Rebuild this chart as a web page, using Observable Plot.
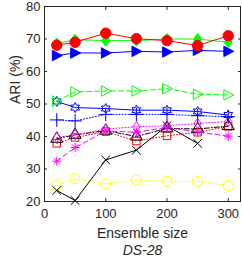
<!DOCTYPE html>
<html>
<head>
<meta charset="utf-8">
<script src="https://cdn.jsdelivr.net/npm/d3@7"></script>
<script src="https://cdn.jsdelivr.net/npm/@observablehq/plot@0.6"></script>
<style>
  html, body { margin: 0; padding: 0; background: #fff; }
  #chart svg { display: block; }
</style>
</head>
<body>
<div id="chart"></div>
<script>
const sizes = [20, 50, 100, 150, 200, 250, 300];

const redCircle     = [68.1, 69.0, 71.8, 70.1, 69.5, 68.0, 71.0];
const greenDiamond  = [68.6, 69.8, 69.5, 69.5, 70.0, 70.0, 69.0];
const blueTriFilled = [64.9, 65.7, 65.7, 66.2, 66.0, 66.5, 66.2];
const greenTriOpen  = [50.9, 53.7, 54.0, 54.0, 54.7, 53.0, 52.8];
const blueHexagram  = [50.8, 48.9, 48.6, 48.1, 48.1, 47.7, 46.6];
const bluePlus      = [45.1, 44.8, 46.8, 46.8, 46.8, 46.4, 46.1];
const magentaDiam   = [39.7, 40.5, 42.3, 43.0, 43.3, 44.0, 44.6];
const blackTri      = [39.3, 40.5, 41.8, 40.0, 42.5, 42.3, 43.2];
const redSquare     = [37.9, 39.7, 41.5, 38.6, 40.2, 41.3, 43.1];
const magentaStar   = [32.4, 36.6, 41.7, 41.3, 42.8, 41.4, 40.1];
const blackX        = [23.4, 20.3, 32.8, 35.8, 43.3, 37.9, null];
const yellowCircle  = [24.9, 27.0, 25.4, 26.6, 26.2, 26.2, 24.9];

const xTicks = [0, 100, 200, 300];
const yTicks = [20, 30, 40, 50, 60, 70, 80];

// custom symbols
const rightTriangle = {
  draw(ctx, size) {
    const r = Math.sqrt(size / Math.PI);
    ctx.moveTo(r, 0);
    ctx.lineTo(-r * 0.8, -r * 0.95);
    ctx.lineTo(-r * 0.8, r * 0.95);
    ctx.closePath();
  }
};
const hexagram = {
  draw(ctx, size) {
    const R = Math.sqrt(size / Math.PI);
    const r = R * 0.55;
    for (let i = 0; i < 12; i++) {
      const a = -Math.PI / 2 + i * Math.PI / 6;
      const rr = i % 2 === 0 ? R : r;
      const px = rr * Math.cos(a), py = rr * Math.sin(a);
      if (i === 0) ctx.moveTo(px, py); else ctx.lineTo(px, py);
    }
    ctx.closePath();
  }
};
const mDiamond = {
  draw(ctx, size) {
    const r = Math.sqrt(size / Math.PI);
    ctx.moveTo(0, -r);
    ctx.lineTo(r * 0.75, 0);
    ctx.lineTo(0, r);
    ctx.lineTo(-r * 0.75, 0);
    ctx.closePath();
  }
};
const asterisk8 = {
  draw(ctx, size) {
    const r = Math.sqrt(size / Math.PI);
    const d = r * Math.SQRT1_2;
    ctx.moveTo(-r, 0); ctx.lineTo(r, 0);
    ctx.moveTo(0, -r); ctx.lineTo(0, r);
    ctx.moveTo(-d, -d); ctx.lineTo(d, d);
    ctx.moveTo(-d, d); ctx.lineTo(d, -d);
  }
};

const series = [
  {v: yellowCircle, color: "#ffff00", dash: "1,2", sym: "circle", fill: "none", r: 5},
  {v: blackX, color: "#000000", dash: null, sym: "times", fill: "none", r: 4},
  {v: redSquare, color: "#ff0000", dash: "1,2", sym: "square", fill: "none", r: 4.2},
  {v: blackTri, color: "#000000", dash: "5,2,1,2", sym: "triangle", fill: "none", r: 4.5},
  {v: magentaStar, color: "#ff00ff", dash: "5,3", sym: asterisk8, fill: "none", r: 4.5},
  {v: magentaDiam, color: "#ff00ff", dash: "1,2", sym: mDiamond, fill: "none", r: 5},
  {v: bluePlus, color: "#0000ff", dash: "1,2", sym: "plus", fill: "none", r: 4.5},
  {v: blueHexagram, color: "#0000ff", dash: null, sym: hexagram, fill: "none", r: 5},
  {v: greenTriOpen, color: "#00ff00", dash: "5,3", sym: rightTriangle, fill: "none", r: 5.5},
  {v: blueTriFilled, color: "#0000ff", dash: null, sym: rightTriangle, fill: "#0000ff", r: 5.5},
  {v: greenDiamond, color: "#00ff00", dash: null, sym: mDiamond, fill: "#00ff00", r: 5.5},
  {v: redCircle, color: "#ff0000", dash: null, sym: "circle", fill: "#ff0000", r: 5.2}
];

const marks = [];
for (const s of series) {
  const data = sizes.map((x, i) => ({x, y: s.v[i]}));
  marks.push(Plot.line(data, {x: "x", y: "y", stroke: s.color, strokeWidth: 1, strokeDasharray: s.dash ?? undefined}));
  const pts = data.filter(d => d.y != null);
  marks.push(Plot.dot(pts, {x: "x", y: "y", symbol: () => s.sym, r: s.r, stroke: s.color, fill: s.fill, strokeWidth: 1}));
}

const axisColor = "#262626";
const font = "'Liberation Sans', Arial, Helvetica, sans-serif";

const chart = Plot.plot({
  width: 242,
  height: 259,
  marginLeft: 44,
  marginRight: 2,
  marginTop: 6,
  marginBottom: 58,
  style: {fontFamily: font, fontSize: "13px", color: axisColor, background: "#fff", overflow: "visible"},
  x: {domain: [0, 320]},
  y: {domain: [20, 80]},
  symbol: {type: "identity"},
  marks: [
    ...marks,
    Plot.frame({stroke: axisColor, strokeWidth: 1}),
    Plot.axisX(xTicks, {anchor: "bottom", tickSize: 0, tickPadding: 7, label: null, fontSize: 13, fill: axisColor}),
    Plot.axisY(yTicks, {anchor: "left", tickSize: 0, tickPadding: 4, label: null, fontSize: 13, fill: axisColor}),
    Plot.axisX(xTicks, {anchor: "bottom", tickSize: -3, text: null, label: null, stroke: axisColor}),
    Plot.axisX(xTicks, {anchor: "top", tickSize: -3, text: null, label: null, stroke: axisColor}),
    Plot.axisY(yTicks, {anchor: "left", tickSize: -3, text: null, label: null, stroke: axisColor}),
    Plot.axisY(yTicks, {anchor: "right", tickSize: -3, text: null, label: null, stroke: axisColor}),
    Plot.text(["Ensemble size"], {frameAnchor: "bottom", dy: 36, fontSize: 14, fill: axisColor}),
    Plot.text(["DS-28"], {frameAnchor: "bottom", dy: 53, fontSize: 14, fontStyle: "italic", fill: axisColor}),
    Plot.text(["ARI (%)"], {frameAnchor: "left", dx: -29, rotate: -90, fontSize: 14, fill: axisColor})
  ]
});
document.getElementById("chart").append(chart);
</script>
</body>
</html>
